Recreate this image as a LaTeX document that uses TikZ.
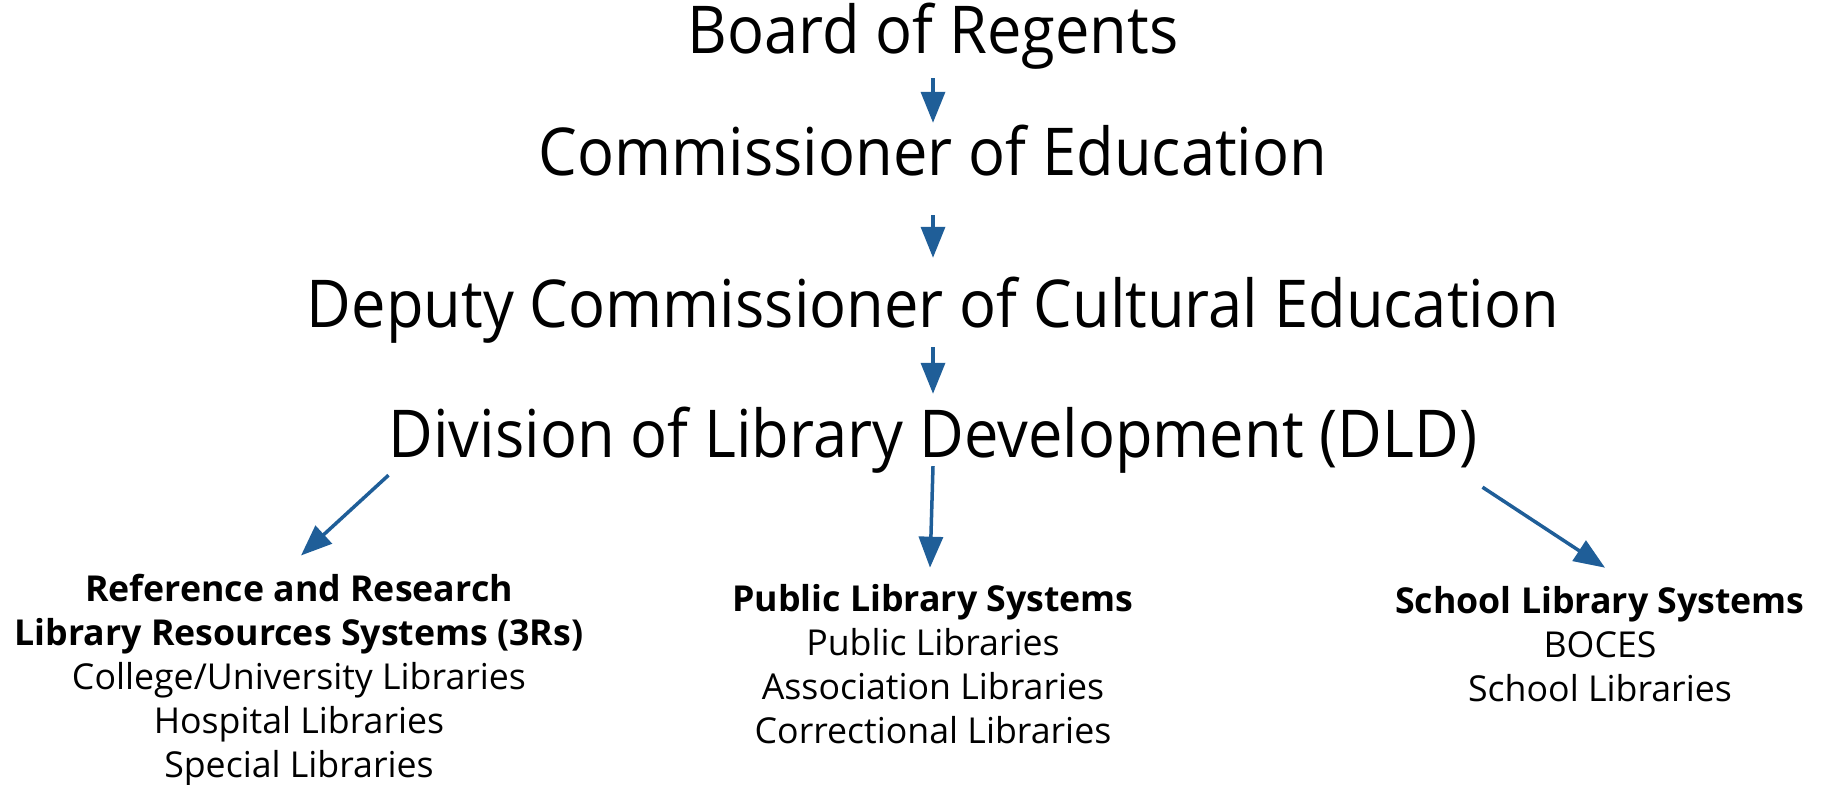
\documentclass[tikz,border=0pt]{standalone}
\usepackage{fontspec}
\setmainfont{Open Sans}
\newfontfamily\officefont{Open Sans}[FakeStretch=0.93]
\usetikzlibrary{positioning}
\usetikzlibrary{arrows.meta}
\definecolor{linkblue}{RGB}{31,94,152}

\tikzset{
  office/.style={font=\officefont\fontsize{66}{70}\selectfont, inner sep=0pt, text height=50pt, text depth=16pt, anchor=base},
  branch/.style={font=\fontsize{35.7}{44}\selectfont, align=center, inner sep=0pt, anchor=base},
  link/.style={draw=linkblue, line width=3.5pt, -{Triangle[length=31pt,width=24pt]}}
}

\begin{document}
\begin{tikzpicture}[x=1pt,y=-1pt]

\useasboundingbox (0,0) rectangle (1830,784);

% chain of offices
\node[office] (regents) at (933,54) {Board of Regents};
\node[office] (commissioner) at (933,175) {Commissioner of Education};
\node[office] (deputy) at (933,327) {Deputy Commissioner of Cultural Education};
\node[office] (dld) at (933,457) {Division of Library Development (DLD)};

% the three kinds of systems (base = last line)
\node[branch] (threers) at (299,777) {\textbf{Reference and Research}\\ \textbf{Library Resources Systems (3Rs)}\\ College/University Libraries\\ Hospital Libraries\\ Special Libraries};
\node[branch] (pls) at (933,743) {\textbf{Public Library Systems}\\ Public Libraries\\ Association Libraries\\ Correctional Libraries};
\node[branch] (sls) at (1600,701) {\textbf{School Library Systems}\\ BOCES\\ School Libraries};

\draw[link] ([yshift=-8pt]regents.south) -- ([yshift=2pt]commissioner.north);
\draw[link] ([yshift=-24pt]commissioner.south) -- ([yshift=19pt]deputy.north);
\draw[link] ([yshift=-4pt]deputy.south) -- ([yshift=13pt]dld.north);

\draw[link] ([yshift=-2pt]dld.south west) -- ([xshift=2pt,yshift=18pt]threers.north);
\draw[link] ([yshift=7pt]dld.south) -- ([xshift=-3pt,yshift=16pt]pls.north);
\draw[link] ([xshift=5pt,yshift=-14pt]dld.south east) -- ([xshift=5pt,yshift=18pt]sls.north);

\end{tikzpicture}
\end{document}
